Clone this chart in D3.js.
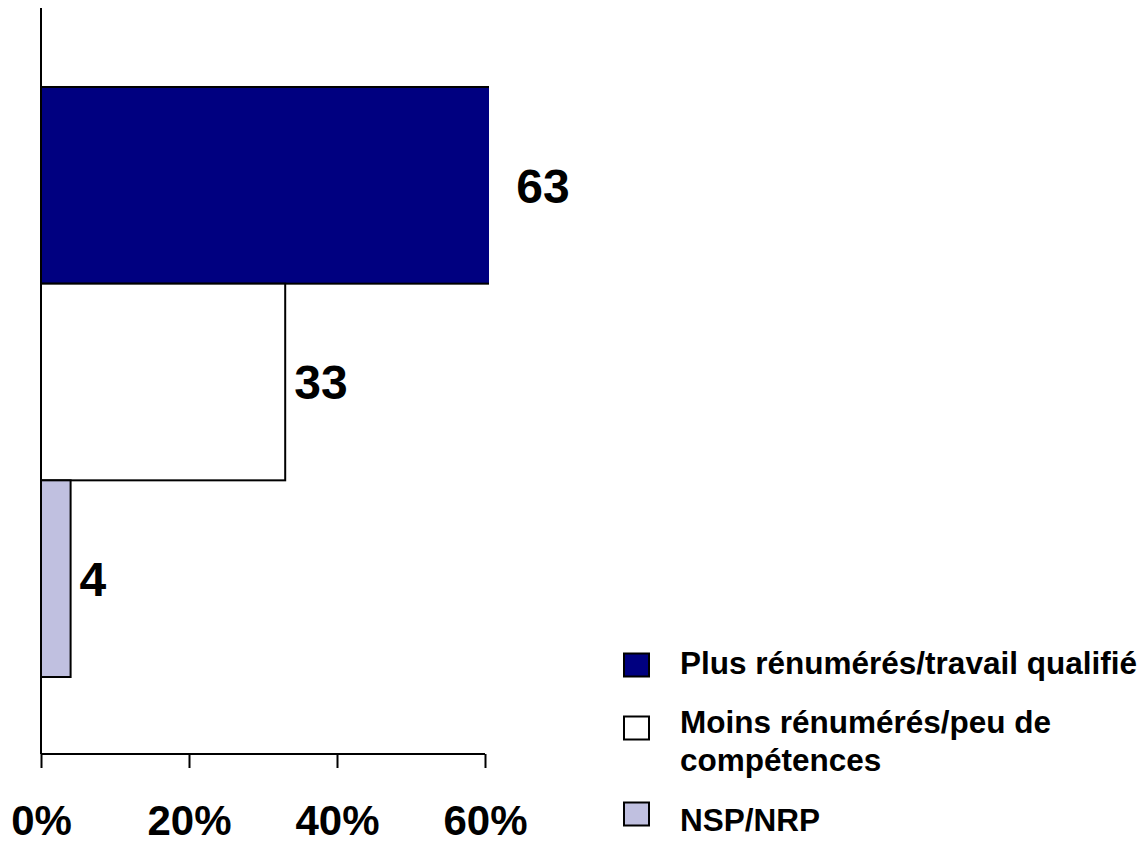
<!DOCTYPE html>
<html>
<head>
<meta charset="UTF-8">
<style>
body { margin: 0; background: #fff; }
text { font-family: Arial, "Liberation Sans", sans-serif; font-weight: bold; fill: #000; }
</style>
</head>
<body>
<svg class="chart" width="1143" height="845"></svg>
<script src="https://d3js.org/d3.v7.min.js"></script>
<script>
// chart data
var series = ["Plus rénumérés/travail qualifié", "Moins rénumérés/peu de compétences", "NSP/NRP"];
var values = [63, 33, 4];
var colors = ["#000080", "#ffffff", "#c0c0e0"];
var ticks = [0, 20, 40, 60];

// legend text wrapped like the original
var legendLines = [["Plus rénumérés/travail qualifié"], ["Moins rénumérés/peu de", "compétences"], ["NSP/NRP"]];

var svg = d3.select(".chart");

var plotLeft = 41, plotRight = 485, plotTop = 8, plotBottom = 754;

// axis stops at 60% but the plot area runs a little further, bars past it get cut
var x = d3.scaleLinear().domain([0, 60]).range([plotLeft, plotRight]);
var y = d3.scaleBand().domain(series).range([plotTop + 2, plotBottom]).paddingInner(0).paddingOuter(0.3915);

svg.append("clipPath").attr("id", "plotclip")
  .append("rect")
    .attr("x", plotLeft - 2).attr("y", 0)
    .attr("width", plotRight - plotLeft + 6).attr("height", plotBottom);

// bars
svg.append("g").attr("clip-path", "url(#plotclip)")
  .selectAll("rect.bar")
  .data(values)
  .enter().append("rect")
    .attr("class", "bar")
    .attr("x", x(0))
    .attr("y", function(d, i) { return y(series[i]); })
    .attr("width", function(d) { return x(d) - x(0); })
    .attr("height", y.bandwidth())
    .attr("fill", function(d, i) { return colors[i]; })
    .attr("stroke", "#000")
    .attr("stroke-width", 2);

// value labels
svg.selectAll("text.val")
  .data(values)
  .enter().append("text")
    .attr("class", "val")
    .attr("x", function(d) { return x(d) + 9; })
    .attr("y", function(d, i) { return y(series[i]) + y.bandwidth() / 2; })
    .attr("dy", "0.36em")
    .style("font-size", "48px")
    .text(function(d) { return d; });

// x axis
var xAxis = d3.axisBottom(x)
  .tickValues(ticks)
  .tickSize(14)
  .tickPadding(37)
  .tickFormat(function(d) { return d + "%"; });

var gx = svg.append("g")
  .attr("transform", "translate(0," + plotBottom + ")")
  .call(xAxis);
gx.select(".domain").attr("d", "M" + plotLeft + ",0H" + plotRight).attr("stroke-width", 2);
gx.selectAll(".tick line").attr("stroke-width", 2);
gx.selectAll(".tick text")
  .style("font-family", "Arial, 'Liberation Sans', sans-serif")
  .style("font-weight", "bold")
  .style("font-size", "42px")
  .attr("fill", "#000");

// y axis line (no ticks)
svg.append("line")
  .attr("x1", plotLeft).attr("x2", plotLeft)
  .attr("y1", plotTop).attr("y2", plotBottom)
  .attr("stroke", "#000")
  .attr("stroke-width", 2);

// legend
var legendY = [663, 722, 820];
var legendBoxY = [665, 728, 814];
var leg = svg.selectAll("g.legend")
  .data(series)
  .enter().append("g")
    .attr("class", "legend");

leg.append("rect")
  .attr("x", 624)
  .attr("y", function(d, i) { return legendBoxY[i] - 11.5; })
  .attr("width", 25)
  .attr("height", 23)
  .attr("fill", function(d, i) { return colors[i]; })
  .attr("stroke", "#000")
  .attr("stroke-width", 2);

leg.each(function(d, i) {
  var t = d3.select(this).append("text")
    .attr("x", 680)
    .attr("y", legendY[i])
    .style("font-size", "31.5px");
  legendLines[i].forEach(function(line, j) {
    t.append("tspan").attr("x", 680).attr("dy", j == 0 ? "0.36em" : 38).text(line);
  });
});
</script>
</body>
</html>
